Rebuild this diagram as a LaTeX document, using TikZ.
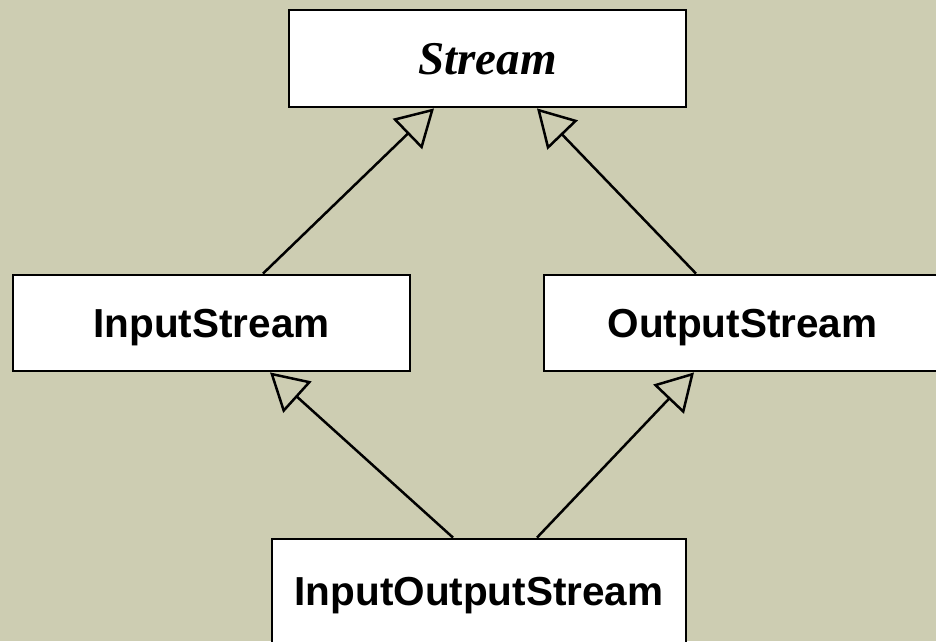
\documentclass[tikz,border=0pt]{standalone}
\usepackage{fontspec}
\setmainfont{Liberation Serif}
\setsansfont{Liberation Sans}
\usetikzlibrary{positioning, arrows.meta}

\definecolor{paper}{RGB}{205,205,178}

\tikzset{
	classbox/.style={draw, rectangle, fill=white, line width=2.8pt, minimum width=397pt, minimum height=97pt, inner sep=0pt, text depth=0pt, font=\sffamily\bfseries\fontsize{40.5}{48}\selectfont},
	inherit/.style={->, line width=2.5pt}
}

\begin{document}
\begin{tikzpicture}[x=1pt, y=1pt, >={Triangle[open, length=37pt, width=42pt]}]
	
	% Background
	\fill[paper] (0,0) rectangle (936,641);
	\clip (0,0) rectangle (936,641);
	
	% Define nodes
	\node [classbox, font=\rmfamily\bfseries\itshape\fontsize{47}{56}\selectfont] (stream) at (487.5,582.5) {Stream};
	\node [classbox, minimum height=96pt] (input) at (211.5,318) {InputStream};
	\node [classbox, minimum height=96pt] (output) at (742.5,318) {OutputStream};
	\node [classbox, minimum width=414pt, minimum height=105pt] (inout) at (479,49.5) {InputOutputStream};
	
	% Inheritance arrows
	\draw[inherit] ([xshift=51.5pt]input.north) -- ([xshift=-53.5pt]stream.south);
	\draw[inherit] ([xshift=-46.5pt]output.north) -- ([xshift=49.5pt]stream.south);
	\draw[inherit] ([xshift=-26pt]inout.north) -- ([xshift=58.5pt]input.south);
	\draw[inherit] ([xshift=58pt]inout.north) -- ([xshift=-48.5pt]output.south);
	
\end{tikzpicture}
\end{document}
